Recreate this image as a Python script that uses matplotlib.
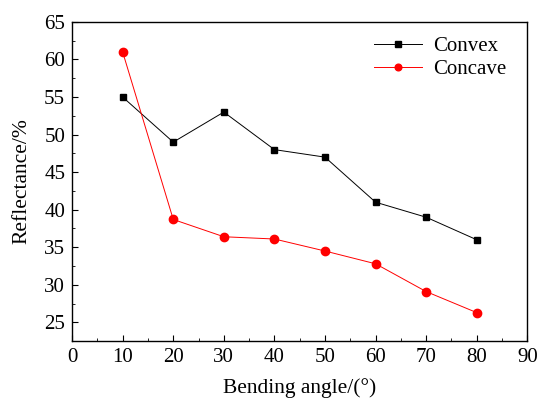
import matplotlib
matplotlib.use("Agg")
import matplotlib.pyplot as plt
from matplotlib.ticker import MultipleLocator

plt.rcParams['font.family'] = ['Liberation Serif', 'DejaVu Serif']
plt.rcParams['mathtext.fontset'] = 'stix'

angles = [10, 20, 30, 40, 50, 60, 70, 80]
convex = [55, 49, 53, 48, 47, 41, 39, 36]
concave = [61, 38.7, 36.4, 36.1, 34.5, 32.8, 29.1, 26.3]

fig = plt.figure(figsize=(5.4, 3.99), dpi=100)
ax = fig.add_axes([0.1335, 0.145, 0.843, 0.8])

ax.plot(angles, convex, color='black', lw=0.7, marker='s', ms=5, label='Convex')
ax.plot(angles, concave, color='red', lw=0.7, marker='o', ms=6, label='Concave')

ax.set_xlim(0, 90)
ax.set_ylim(22.5, 65)
ax.xaxis.set_major_locator(MultipleLocator(10))
ax.xaxis.set_minor_locator(MultipleLocator(5))
ax.yaxis.set_major_locator(MultipleLocator(5))
ax.yaxis.set_minor_locator(MultipleLocator(2.5))
ax.tick_params(which='both', direction='in', labelsize=15)
ax.tick_params(which='major', length=4, pad=5)
ax.tick_params(which='minor', length=2.5)
for s in ax.spines.values():
    s.set_linewidth(1.0)

ax.set_xlabel('Bending angle/(°)', fontsize=15.5, labelpad=8)
ax.set_ylabel('Reflectance/%', fontsize=15.5, labelpad=9)
leg = ax.legend(loc='upper right', frameon=False, fontsize=15, handlelength=2.3,
                borderaxespad=0.3, labelspacing=0.15, handletextpad=0.5,
                markerscale=0.8, bbox_to_anchor=(0.985, 1.0))

fig.savefig('out.png', dpi=100)
